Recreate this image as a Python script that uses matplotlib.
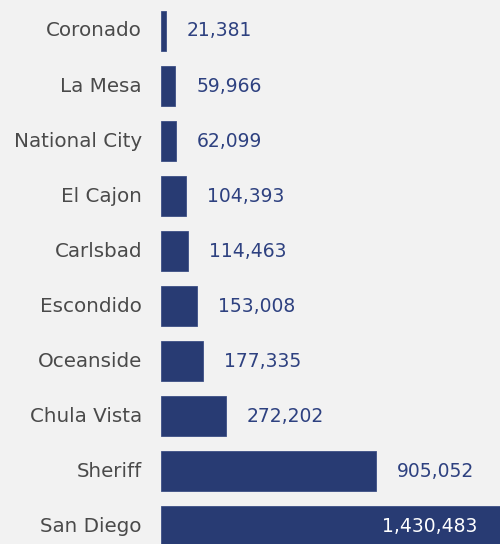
import matplotlib
matplotlib.use("Agg")
import matplotlib.pyplot as plt

# Population served by agency
agencies = ["Coronado", "La Mesa", "National City", "El Cajon", "Carlsbad",
            "Escondido", "Oceanside", "Chula Vista", "Sheriff", "San Diego"]
population = [21381, 59966, 62099, 104393, 114463,
              153008, 177335, 272202, 905052, 1430483]

BG = "#f2f2f2"
BAR = "#283b73"
LABEL = "#4a4a4a"
VALUE = "#2e4180"

plt.rcParams["font.family"] = ["DejaVu Sans"]

fig = plt.figure(figsize=(5.0, 5.44), dpi=100, facecolor=BG)
ax = fig.add_axes([161 / 500, 0, 339 / 500, 1])
ax.set_facecolor(BG)

ypos = list(range(len(agencies)))
ax.barh(ypos, population, height=0.727, color=BAR, edgecolor="#3d4f85", linewidth=0.6)

xmax = 905052 * 339 / 215
ax.set_xlim(0, xmax)
ax.set_ylim(9.327, -0.5636)

for y, name, val in zip(ypos, agencies, population):
    ax.annotate(name, xy=(0, y), xytext=(-19, 0), textcoords="offset pixels",
                ha="right", va="center", fontsize=14.3, color=LABEL)
    txt = f"{val:,}"
    if val > 0.8 * xmax:
        ax.annotate(txt, xy=(xmax, y), xytext=(-23, 0), textcoords="offset pixels",
                    ha="right", va="center", fontsize=13.5, color="white")
    else:
        ax.annotate(txt, xy=(val, y), xytext=(21, 0), textcoords="offset pixels",
                    ha="left", va="center", fontsize=13.5, color=VALUE)

ax.set_xticks([])
ax.set_yticks([])
for s in ax.spines.values():
    s.set_visible(False)

fig.savefig("out.png", dpi=100, facecolor=BG)
